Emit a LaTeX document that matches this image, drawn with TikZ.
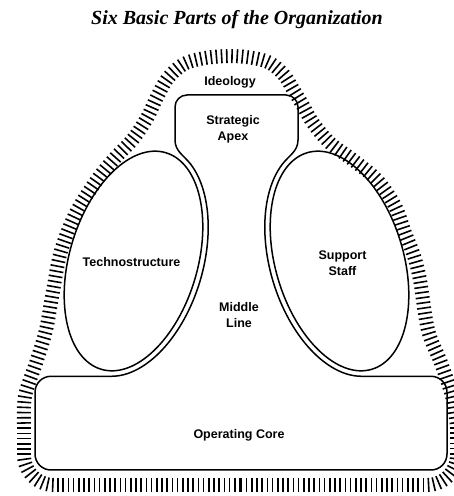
\documentclass[tikz,border=0pt]{standalone}
\usepackage{fontspec}
\setmainfont{Liberation Serif}
\newfontfamily\labelfont{Liberation Sans}
\usetikzlibrary{decorations.markings}
\begin{document}
\begin{tikzpicture}[x=1pt,y=1pt,
  mline/.style={draw=black, line width=1.5pt, line join=round},
  lbl/.style={font=\labelfont\bfseries\fontsize{12.5}{16}\selectfont, align=center, inner sep=0pt},
  ttl/.style={font=\bfseries\itshape\fontsize{20}{24}\selectfont, inner sep=0pt},
  hatch/.style={decoration={markings, mark=between positions 0 and 1 step 5.2pt with {\draw[line width=1.6pt, black] (0pt,-7pt) -- (0pt,7pt);}}, decorate}
]
\useasboundingbox (0,0) rectangle (454,496);

% Ideology band (hatched)
\path[hatch] (240,11) -- (54,11) arc[start angle=270, end angle=180, radius=30] -- (24,70)
  -- plot[smooth, tension=0.55] coordinates {(24,70) (25,100) (36,133) (46,166) (53,205) (61,245) (76,283) (97,316) (115,338) (133,357) (147,378) (157,399) (168,418) (184,432) (205,438) (230,440) (253,438) (270,433) (284,421) (294,405) (302,392) (313,373) (330,353) (353,336) (377,316) (395,290) (405,263) (414,240) (420,216) (428,166) (441,133) (452,100) (457,70)}
  -- (457,41) arc[start angle=0, end angle=-90, radius=30] -- (240,11);

% joint points
\coordinate (L1) at (190.69,331.77);
\coordinate (R1) at (282.31,331.77);
\coordinate (L2) at (111.59,119.72);
\coordinate (A1) at (175,356);
\coordinate (A2) at (298,356);

% Middle line outline: apex + middle line + operating core
\draw[mline] (A1) -- (175,389) arc[start angle=180, end angle=90, radius=12] -- (286,401)
  arc[start angle=90, end angle=0, radius=12] -- (A2)
  to[out=-90,in=52.5] (R1)
  -- plot[domain=67:-80.1, samples=60, variable=\t] ({339.5-(66.6*cos(\t)+33.86*sin(\t))},{235+(-19.86*cos(\t)+113.56*sin(\t))})
  -- (431,119.72) arc[start angle=90, end angle=0, radius=16] -- (447,42)
  arc[start angle=0, end angle=-90, radius=16] -- (51,26)
  arc[start angle=270, end angle=180, radius=16] -- (35,103.72)
  arc[start angle=180, end angle=90, radius=16] -- (L2)
  -- plot[domain=-80.1:67, samples=60, variable=\t] ({133.5+(66.6*cos(\t)+33.86*sin(\t))},{235+(-19.86*cos(\t)+113.56*sin(\t))})
  to[out=127.5,in=-90] (A1) -- cycle;

% Technostructure and support staff
\draw[mline, rotate around={-16.6:(133.5,235)}] (133.5,235) ellipse [x radius=64, y radius=113];
\draw[mline, rotate around={16.6:(339.5,235)}] (339.5,235) ellipse [x radius=64, y radius=113];

% Labels
\node[ttl] (title) at (237,476) {Six Basic Parts of the Organization};
\node[lbl] (ideology) at (230,414) {Ideology};
\node[lbl] (apex) at (233,367) {Strategic\\Apex};
\node[lbl] (techno) at (131.5,234) {Technostructure};
\node[lbl] (support) at (342.5,232.5) {Support\\Staff};
\node[lbl] (middle) at (239,181) {Middle\\Line};
\node[lbl] (core) at (239,61) {Operating Core};
\end{tikzpicture}
\end{document}
